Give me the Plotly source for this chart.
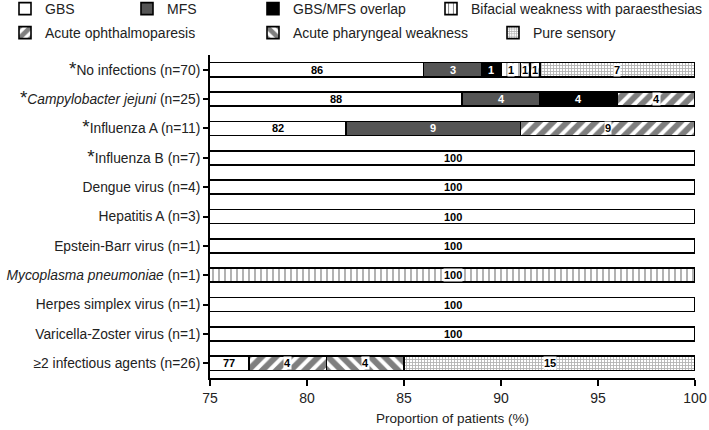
import plotly.graph_objects as go

# categories, top to bottom
groups = [
    "<span style='font-size:19px'>*</span>No infections (n=70)",
    "<span style='font-size:19px'>*</span><i>Campylobacter jejuni</i> (n=25)",
    "<span style='font-size:19px'>*</span>Influenza A (n=11)",
    "<span style='font-size:19px'>*</span>Influenza B (n=7)",
    "Dengue virus (n=4)",
    "Hepatitis A (n=3)",
    "Epstein-Barr virus (n=1)",
    "<i>Mycoplasma pneumoniae</i> (n=1)",
    "Herpes simplex virus (n=1)",
    "Varicella-Zoster virus (n=1)",
    "≥2 infectious agents (n=26)",
]

gbs = [86, 88, 82, 100, 100, 100, 100, 0, 100, 100, 77]
mfs = [3, 4, 9, 0, 0, 0, 0, 0, 0, 0, 0]
overlap = [1, 4, 0, 0, 0, 0, 0, 0, 0, 0, 0]
bifacial = [1, 0, 0, 0, 0, 0, 0, 100, 0, 0, 0]
ophthalmo = [0.5, 4, 9, 0, 0, 0, 0, 0, 0, 0, 4]
pharyngeal = [0.5, 0, 0, 0, 0, 0, 0, 0, 0, 0, 4]
sensory = [8, 0, 0, 0, 0, 0, 0, 0, 0, 0, 15]

# printed labels of the first row (rounded in the source)
first_row_text = ["86", "3", "1", "1", "1", "1", "7"]

series = [
    ("GBS", gbs, dict(color="white"), "black", False),
    ("MFS", mfs, dict(color="#555555"), "white", False),
    ("GBS/MFS overlap", overlap, dict(color="black"), "white", False),
    ("Bifacial weakness with paraesthesias", bifacial,
     dict(color="white", pattern=dict(shape="|", fgcolor="black", size=6, solidity=0.2)), "black", True),
    ("Acute ophthalmoparesis", ophthalmo,
     dict(color="white", pattern=dict(shape="/", fgcolor="black", size=10, solidity=0.6)), "black", True),
    ("Acute pharyngeal weakness", pharyngeal,
     dict(color="white", pattern=dict(shape="\\", fgcolor="black", size=10, solidity=0.6)), "black", True),
    ("Pure sensory", sensory,
     dict(color="white", pattern=dict(shape="+", fgcolor="#666666", size=3, solidity=0.5)), "black", True),
]

W, H = 709, 430
ML, MR, MT, MB = 210, 14, 55, 52
# legend placement (pixels in the page)
legend_pos = [(5, 9), (127, 9), (253, 9), (431, 9), (5, 33), (253, 33), (493, 33)]

ypos = list(range(len(groups)))

fig = go.Figure()
for i, (name, vals, marker, _, _) in enumerate(series):
    lg = "legend" if i == 0 else f"legend{i + 1}"
    fig.add_trace(go.Bar(y=ypos, x=vals, name=name, orientation="h", width=0.48,
                         marker=dict(line=dict(color="black", width=1.6), **marker),
                         legend=lg, hoverinfo="skip"))
    px, py = legend_pos[i]
    fig.update_layout({lg: dict(x=(px - ML) / (W - ML - MR), y=(H - MB - py) / (H - MT - MB),
                                xanchor="left", yanchor="middle", bgcolor="rgba(0,0,0,0)",
                                font=dict(size=14, color="#222"), itemclick=False)})

# value labels centred on the visible part of each segment
x_min = 75
start = [0] * len(groups)
for k, (name, vals, _, txtcol, boxed) in enumerate(series):
    for r, v in enumerate(vals):
        lo, hi = start[r], start[r] + v
        start[r] = hi
        if v == 0 or hi <= x_min:
            continue
        txt = first_row_text[k] if r == 0 else f"{v:g}"
        ann = dict(x=(max(lo, x_min) + hi) / 2, y=ypos[r], xref="x", yref="y",
                   text=f"<b>{txt}</b>", showarrow=False,
                   font=dict(size=11, color=txtcol), borderpad=0)
        if boxed:
            ann["bgcolor"] = "white"
        fig.add_annotation(**ann)

fig.update_layout(
    barmode="stack",
    width=W, height=H,
    margin=dict(l=ML, r=MR, t=MT, b=MB, autoexpand=False),
    plot_bgcolor="white", paper_bgcolor="white",
    font=dict(family="Arial, Liberation Sans, sans-serif", size=14, color="#222"),
    showlegend=True,
)
fig.update_xaxes(range=[75, 100], tickvals=[75, 80, 85, 90, 95, 100], showgrid=False,
                 showline=True, linecolor="black", linewidth=2, ticks="outside",
                 ticklen=6, tickwidth=2, tickcolor="black", zeroline=False,
                 tickfont=dict(size=14),
                 title=dict(text="Proportion of patients (%)", standoff=9, font=dict(size=13.5)))
fig.update_yaxes(range=[len(groups) - 0.5, -0.5], tickvals=ypos, ticktext=groups,
                 tickfont=dict(size=13.8),
                 showgrid=False, showline=True, linecolor="black", zeroline=False,
                 linewidth=2, ticks="outside", ticklen=5, tickwidth=2, tickcolor="black")

# the page's default body margin would shift the figure by 8px
fig.write_html("out.html", config={"displayModeBar": False},
               post_script="document.body.style.margin='0';")
